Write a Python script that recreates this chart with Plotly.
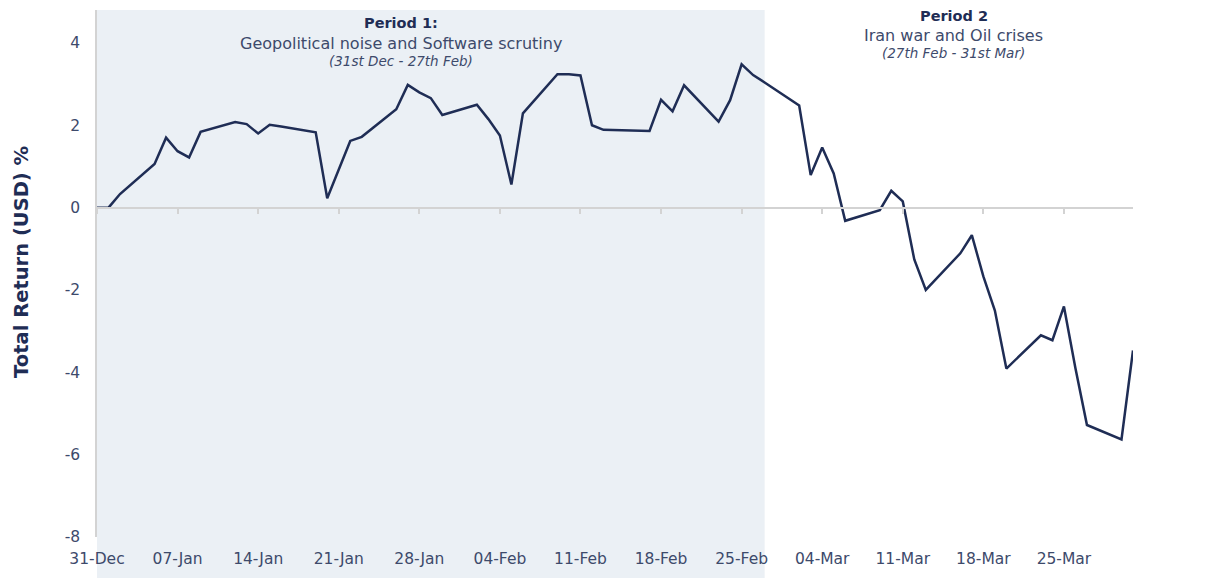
import plotly.graph_objects as go
import pandas as pd

# trading dates and cumulative total return (USD, %)
dates = ["2025-12-31", "2026-01-01", "2026-01-02", "2026-01-05", "2026-01-06", "2026-01-07",
         "2026-01-08", "2026-01-09", "2026-01-12", "2026-01-13", "2026-01-14", "2026-01-15",
         "2026-01-16", "2026-01-19", "2026-01-20", "2026-01-21", "2026-01-22", "2026-01-23",
         "2026-01-26", "2026-01-27", "2026-01-28", "2026-01-29", "2026-01-30", "2026-02-02",
         "2026-02-03", "2026-02-04", "2026-02-05", "2026-02-06", "2026-02-09", "2026-02-10",
         "2026-02-11", "2026-02-12", "2026-02-13", "2026-02-17", "2026-02-18", "2026-02-19",
         "2026-02-20", "2026-02-23", "2026-02-24", "2026-02-25", "2026-02-26", "2026-02-27",
         "2026-03-02", "2026-03-03", "2026-03-04", "2026-03-05", "2026-03-06", "2026-03-09",
         "2026-03-10", "2026-03-11", "2026-03-12", "2026-03-13", "2026-03-16", "2026-03-17",
         "2026-03-18", "2026-03-19", "2026-03-20", "2026-03-23", "2026-03-24", "2026-03-25",
         "2026-03-26", "2026-03-27", "2026-03-30", "2026-03-31"]
total_return = [0.00, 0.00, 0.33, 1.06, 1.70, 1.37,
                1.22, 1.84, 2.08, 2.03, 1.80, 2.01,
                1.97, 1.83, 0.23, 0.93, 1.62, 1.72,
                2.39, 2.98, 2.80, 2.66, 2.25, 2.50,
                2.15, 1.75, 0.56, 2.29, 3.24, 3.24,
                3.21, 2.00, 1.89, 1.86, 2.62, 2.34,
                2.97, 2.09, 2.61, 3.48, 3.22, 3.04,
                2.48, 0.79, 1.46, 0.83, -0.32, -0.06,
                0.41, 0.15, -1.26, -2.00, -1.11, -0.67,
                -1.67, -2.50, -3.91, -3.10, -3.22, -2.40,
                -3.90, -5.28, -5.63, -3.47]

period1 = ["2025-12-31", "2026-02-27"]
tick_dates = pd.date_range("2025-12-31", "2026-03-25", freq="7D")
tick_labels = [d.strftime("%d-%b") for d in tick_dates]
y_ticks = [4, 2, 0, -2, -4, -6, -8]
y_labels = [str(v) for v in y_ticks]

navy = "#1f2d55"
grey_txt = "#3d4a6b"
font = "DejaVu Sans, sans-serif"

fig = go.Figure()
fig.add_trace(go.Scatter(x=dates, y=total_return, mode="lines",
                         line=dict(color=navy, width=2.5), showlegend=False))
# invisible copy so the zero-line axis (x2) gets drawn
fig.add_trace(go.Scatter(x=dates, y=total_return, mode="lines", xaxis="x2",
                         line=dict(width=0), hoverinfo="skip", showlegend=False))

fig.add_shape(type="rect", xref="x", yref="paper", x0=period1[0], x1=period1[1],
              y0=-0.1, y1=1, fillcolor="#ebf0f5", line_width=0, layer="below")

ann = [
    (0.2934, 0.975, "<b>Period 1:</b>", 14.5, navy),
    (0.2934, 0.937, "Geopolitical noise and Software scrutiny", 16, grey_txt),
    (0.2934, 0.903, "<i>(31st Dec - 27th Feb)</i>", 13.5, grey_txt),
    (0.827, 0.988, "<b>Period 2</b>", 14.5, navy),
    (0.827, 0.952, "Iran war and Oil crises", 16, grey_txt),
    (0.827, 0.918, "<i>(27th Feb - 31st Mar)</i>", 13.5, grey_txt),
]
for x, y, t, s, c in ann:
    fig.add_annotation(x=x, y=y, xref="paper", yref="paper", text=t, showarrow=False,
                       xanchor="center", yanchor="middle", font=dict(size=s, color=c, family=font))

# y-axis title
fig.add_annotation(x=-0.0724, y=0.522, xref="paper", yref="paper", text="<b>Total Return (USD) %</b>",
                   textangle=-90, showarrow=False, xanchor="center", yanchor="middle",
                   font=dict(size=19.5, color=navy, family=font))

# page body adds an 8px offset, so margins are shifted to compensate
fig.update_layout(
    width=1221, height=578,
    margin=dict(l=89, r=96, t=2, b=49),
    plot_bgcolor="rgba(0,0,0,0)", paper_bgcolor="white",
    font=dict(family=font, color=grey_txt),
    xaxis=dict(type="date", range=["2025-12-31", "2026-03-31"], tickvals=tick_dates,
               ticktext=tick_labels, showgrid=False, showline=False, zeroline=False,
               ticks="outside", ticklen=7, tickcolor="rgba(0,0,0,0)", automargin=False,
               tickfont=dict(size=15.5, color=grey_txt)),
    xaxis2=dict(type="date", overlaying="x", anchor="free", position=0.625,
                range=["2025-12-31", "2026-03-31"], tickvals=tick_dates,
                showticklabels=False, showgrid=False, showline=True, linecolor="#d3d3d3",
                linewidth=2, ticks="outside", ticklen=5, tickcolor="#d3d3d3", tickwidth=2,
                side="bottom", automargin=False),
    yaxis=dict(range=[-8, 4.8], tickvals=y_ticks, ticktext=y_labels, showgrid=False,
               zeroline=False, showline=True, linecolor="#d3d3d3", linewidth=1.5,
               ticks="outside", ticklen=12, tickcolor="rgba(0,0,0,0)", automargin=False,
               tickfont=dict(size=15.5, color=grey_txt)),
)

fig.write_html("out.html")
